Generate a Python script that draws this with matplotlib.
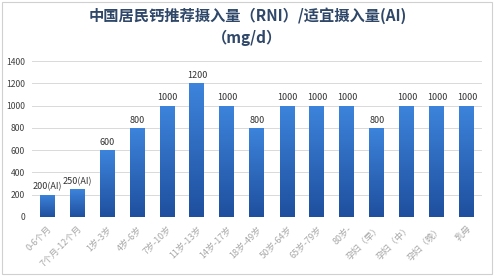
import numpy as np
import matplotlib.pyplot as plt
from matplotlib.colors import LinearSegmentedColormap

plt.rcParams['font.family'] = ['Noto Sans CJK SC', 'DejaVu Sans']

groups = ['0-6个月', '7个月-12个月', '1岁-3岁', '4岁-6岁', '7岁-10岁', '11岁-13岁',
          '14岁-17岁', '18岁-49岁', '50岁-64岁', '65岁-79岁', '80岁-',
          '孕妇（早）', '孕妇（中）', '孕妇（晚）', '乳母']
calcium = [200, 250, 600, 800, 1000, 1200, 1000, 800, 1000, 1000, 1000,
           800, 1000, 1000, 1000]
value_labels = ['200(AI)', '250(AI)', '600', '800', '1000', '1200', '1000', '800',
                '1000', '1000', '1000', '800', '1000', '1000', '1000']

fig = plt.figure(figsize=(4.95, 2.76), dpi=100)
fig.patch.set_facecolor('white')
ax = fig.add_axes([32/495, 59/276, 450/495, 156/276])

x = np.arange(len(groups))
bars = ax.bar(x, calcium, width=0.5, color='#2a62bb', zorder=3)

# gradient fill, lighter top -> darker bottom
cmap = LinearSegmentedColormap.from_list('g', ['#1f4f9e', '#3d84dc'])
grad = np.linspace(0, 1, 256).reshape(-1, 1)
for i, b in enumerate(bars):
    bx, by = b.get_x(), b.get_y()
    w, h = b.get_width(), b.get_height()
    im = ax.imshow(grad, extent=[bx, bx + w, by, by + h], origin='lower',
                   aspect='auto', cmap=cmap, zorder=4)
    im.set_clip_path(b)
    ax.text(bx + w / 2, h + 30, value_labels[i], ha='center',
            va='bottom', fontsize=6.5, color='#333333', zorder=5)

ax.set_xlim(-0.5, len(groups) - 0.5)
ax.set_ylim(0, 1400)
ax.set_yticks(range(0, 1401, 200))
ax.tick_params(axis='y', labelsize=6.2, colors='#404040', length=0, pad=5)
ax.set_xticks(x)
ax.set_xticklabels(groups, rotation=45, ha='right', rotation_mode='anchor',
                   fontsize=6.5, color='#a8a8a8')
ax.tick_params(axis='x', length=0, pad=5)
ax.grid(axis='y', color='#d9d9d9', linewidth=0.7, zorder=0)
for s in ax.spines.values():
    s.set_visible(False)
ax.axhline(0, color='#d9d9d9', linewidth=0.7, zorder=1)

fig.text(0.5, 1 - 16/276, '中国居民钙推荐摄入量（RNI）/适宜摄入量(AI)', ha='center',
         va='center', fontsize=11, fontweight='bold', color='#2f4768')
fig.text(0.5, 1 - 38/276, '（mg/d）', ha='center', va='center', fontsize=11,
         fontweight='bold', color='#2f4768')

border = plt.Rectangle((0.004, 0.006), 0.99, 0.988, transform=fig.transFigure,
                       fill=False, edgecolor='#d0d0d0', linewidth=0.8)
fig.patches.append(border)

fig.savefig('out.png', dpi=100)
